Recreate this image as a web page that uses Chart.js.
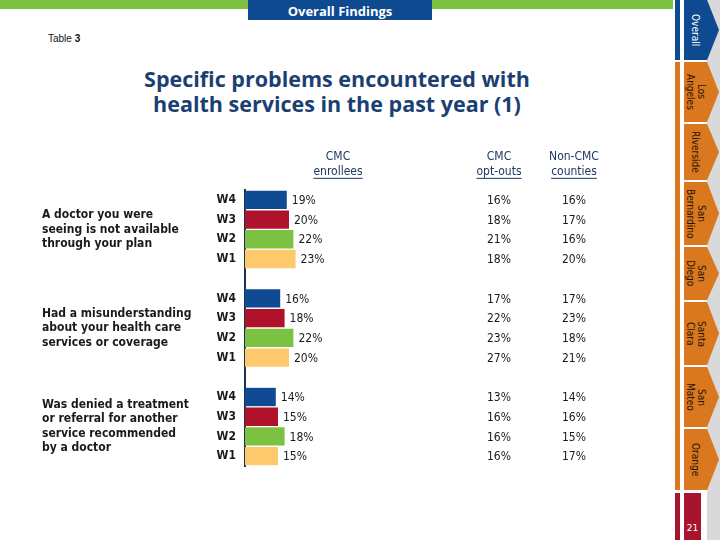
<!DOCTYPE html>
<html>
<head>
<meta charset="utf-8">
<script src="https://cdn.jsdelivr.net/npm/chart.js@4"></script>
<style>
  body { margin: 0; width: 720px; height: 540px; position: relative; background: #fff; overflow: hidden; font-family: "DejaVu Sans Condensed", "DejaVu Sans", sans-serif; }
  .abs { position: absolute; }
  #chart { position: absolute; left: 0; top: 0; }
  .tab { position: absolute; left: 684px; width: 35px; clip-path: polygon(0 0, 66% 0, 100% 50%, 66% 100%, 0 100%); display: flex; align-items: center; justify-content: center; padding-right: 12px; box-sizing: border-box; }
  .tab span { writing-mode: vertical-rl; font-size: 10px; line-height: 11px; text-align: center; color: #2a1606; }
</style>
</head>
<body>
<!-- page decorations -->
<div class="abs" style="left:0;top:0;width:248px;height:9px;background:#7dc142"></div>
<div class="abs" style="left:432px;top:0;width:241px;height:9px;background:#7dc142"></div>
<div class="abs" style="left:248px;top:0;width:184px;height:20px;background:#0d4a8f;color:#fff;font:bold 13px 'Open Sans',sans-serif;text-align:center;line-height:22px">Overall Findings</div>
<div class="abs" style="left:48px;top:33px;font:10px 'Liberation Sans',sans-serif;color:#111">Table <b>3</b></div>
<div class="abs" style="left:87px;top:66px;width:500px;text-align:center;font:bold 21.5px 'Open Sans',sans-serif;line-height:25px;color:#1b3f73">Specific problems encountered with<br>health services in the past year (1)</div>
<div class="abs" style="left:707px;top:0;width:13px;height:540px;background:#d9d9d9"></div>
<div class="abs" style="left:675px;top:0;width:5px;height:60px;background:#0d4a8f"></div>
<div class="abs" style="left:675px;top:62px;width:5px;height:428px;background:#d9781e"></div>
<div class="abs" style="left:675px;top:493px;width:5px;height:47px;background:#a8132e"></div>
<div id="tabs"></div>
<div class="abs" style="left:684px;top:493px;width:17px;height:47px;background:#a8132e;color:#fff;font:9px 'DejaVu Sans',sans-serif;text-align:center;line-height:70px">21</div>
<canvas id="chart" width="720" height="540"></canvas>
<script>
// chart data
const waves = ["W4", "W3", "W2", "W1"];
const waveColors = ["#0f4a93", "#b0112b", "#7dc142", "#fdc96c"];
const questions = [
  ["A doctor you were", "seeing is not available", "through your plan"],
  ["Had a misunderstanding", "about your health care", "services or coverage"],
  ["Was denied a treatment", "or referral for another", "service recommended", "by a doctor"]
];
const enrollees = [[19, 20, 22, 23], [16, 18, 22, 20], [14, 15, 18, 15]];
const optOuts = [[16, 18, 21, 18], [17, 22, 23, 27], [13, 16, 16, 16]];
const nonCmc = [[16, 17, 16, 20], [17, 23, 18, 21], [14, 16, 15, 17]];
const headers = [["CMC", "enrollees"], ["CMC", "opt-outs"], ["Non-CMC", "counties"]];
const tabNames = [["Overall"], ["Los", "Angeles"], ["Riverside"], ["San", "Bernardino"], ["San", "Diego"], ["Santa", "Clara"], ["San", "Mateo"], ["Orange"]];
const tabTops = [0, 62, 124, 182, 247, 302, 367, 429];
const tabBottoms = [60, 122, 180, 245, 300, 365, 427, 490];

// side tabs
const tabsDiv = document.getElementById("tabs");
tabNames.forEach((name, i) => {
  const t = document.createElement("div");
  t.className = "tab";
  t.style.top = tabTops[i] + "px";
  t.style.height = (tabBottoms[i] - tabTops[i]) + "px";
  t.style.background = i === 0 ? "#0d4a8f" : "#d9781e";
  const s = document.createElement("span");
  s.innerHTML = name.join("<br>");
  if (i === 0) s.style.color = "#fff";
  t.appendChild(s);
  tabsDiv.appendChild(t);
});

// build category rows, blank row between question groups
let labels = [];
let values = [];
let colors = [];
let optRow = [];
let nonRow = [];
enrollees.forEach((grp, g) => {
  if (g > 0) { labels.push(""); values.push(null); colors.push("#fff"); optRow.push(null); nonRow.push(null); }
  grp.forEach((v, i) => {
    labels.push(waves[i]);
    values.push(v);
    colors.push(waveColors[i]);
    optRow.push(optOuts[g][i]);
    nonRow.push(nonCmc[g][i]);
  });
});

const textFont = "'DejaVu Sans Condensed', 'DejaVu Sans', sans-serif";

const tablePlugin = {
  id: "tablePlugin",
  afterDraw(chart) {
    const c = chart.ctx;
    const y = chart.scales.y;
    const x = chart.scales.x;
    c.save();
    c.textBaseline = "middle";
    // value labels after bars + table columns
    values.forEach((v, i) => {
      if (v === null) return;
      const py = y.getPixelForValue(i);
      c.fillStyle = "#1a1a1a";
      c.font = "12px " + textFont;
      c.textAlign = "left";
      c.fillText(v + "%", x.getPixelForValue(v) + 5, py + 1);
      c.textAlign = "center";
      c.fillText(optRow[i] + "%", 499, py + 1);
      c.fillText(nonRow[i] + "%", 574, py + 1);
    });
    // headers
    const top = y.getPixelForValue(0);
    const hx = [338, 499, 574];
    c.fillStyle = "#1f3864";
    c.strokeStyle = "#1f3864";
    c.lineWidth = 1;
    c.font = "12px " + textFont;
    c.textAlign = "center";
    headers.forEach((h, k) => {
      c.fillText(h[0], hx[k], top - 43);
      c.fillText(h[1], hx[k], top - 28);
      const w = c.measureText(h[1]).width;
      c.beginPath();
      c.moveTo(hx[k] - w / 2, top - 21.5);
      c.lineTo(hx[k] + w / 2, top - 21.5);
      c.stroke();
    });
    // question labels, centred on each group
    c.fillStyle = "#1a1a1a";
    c.font = "bold 12px " + textFont;
    c.textAlign = "left";
    questions.forEach((q, g) => {
      const mid = (y.getPixelForValue(g * 5) + y.getPixelForValue(g * 5 + 3)) / 2;
      q.forEach((line, k) => {
        c.fillText(line, 42, mid + (k - (q.length - 1) / 2) * 14.5);
      });
    });
    c.restore();
  }
};

const ctx = document.getElementById("chart").getContext("2d");
const myChart = new Chart(ctx, {
  type: "bar",
  data: {
    labels: labels,
    datasets: [{
      data: values,
      backgroundColor: colors,
      categoryPercentage: 1,
      barPercentage: 0.93,
    }],
  },
  options: {
    indexAxis: "y",
    responsive: false,
    animation: false,
    layout: { padding: { left: 205, top: 190, right: 365, bottom: 74 } },
    plugins: { legend: { display: false }, tooltip: { enabled: false } },
    scales: {
      x: { display: false, min: 0, max: 50 },
      y: {
        grid: { display: false, drawTicks: false },
        border: { display: true, color: "#1c3350", width: 2 },
        ticks: { padding: 9, color: "#1a1a1a", font: { family: textFont, size: 12, weight: "bold" } },
        afterFit(axis) { axis.width = 40; },
      },
    },
  },
  plugins: [tablePlugin],
});
</script>
</body>
</html>
